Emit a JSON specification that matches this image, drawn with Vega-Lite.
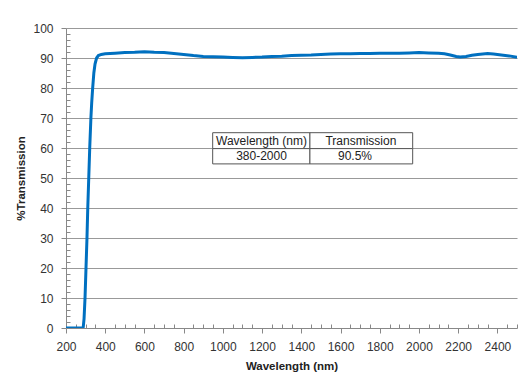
{
  "$schema": "https://vega.github.io/schema/vega-lite/v6.json",
  "width": 451,
  "height": 300,
  "autosize": {"type": "none"},
  "padding": {"left": 66, "top": 28, "right": 15, "bottom": 53},
  "background": "white",
  "config": {
    "view": {"stroke": null},
    "font": "Liberation Sans"
  },
  "datasets": {
    "curve": [
      {"wl": 200, "t": 0}, {"wl": 250, "t": 0}, {"wl": 285, "t": 0}, {"wl": 288, "t": 0.3},
      {"wl": 292, "t": 3}, {"wl": 297, "t": 10}, {"wl": 302, "t": 20}, {"wl": 307, "t": 30},
      {"wl": 311, "t": 40}, {"wl": 316, "t": 50}, {"wl": 321, "t": 60}, {"wl": 327, "t": 70},
      {"wl": 331, "t": 75}, {"wl": 336, "t": 80}, {"wl": 342, "t": 85}, {"wl": 348, "t": 88},
      {"wl": 356, "t": 90}, {"wl": 365, "t": 90.8}, {"wl": 380, "t": 91.2}, {"wl": 400, "t": 91.4},
      {"wl": 450, "t": 91.6}, {"wl": 500, "t": 91.8}, {"wl": 550, "t": 91.9}, {"wl": 600, "t": 92.1},
      {"wl": 650, "t": 91.9}, {"wl": 700, "t": 91.8}, {"wl": 750, "t": 91.5}, {"wl": 800, "t": 91.2},
      {"wl": 850, "t": 90.8}, {"wl": 900, "t": 90.5}, {"wl": 950, "t": 90.4}, {"wl": 1000, "t": 90.3},
      {"wl": 1050, "t": 90.2}, {"wl": 1100, "t": 90.1}, {"wl": 1150, "t": 90.2}, {"wl": 1200, "t": 90.3},
      {"wl": 1250, "t": 90.5}, {"wl": 1300, "t": 90.6}, {"wl": 1350, "t": 90.8}, {"wl": 1400, "t": 90.9},
      {"wl": 1450, "t": 91.0}, {"wl": 1500, "t": 91.2}, {"wl": 1550, "t": 91.3}, {"wl": 1600, "t": 91.4},
      {"wl": 1650, "t": 91.4}, {"wl": 1700, "t": 91.5}, {"wl": 1750, "t": 91.5}, {"wl": 1800, "t": 91.6},
      {"wl": 1850, "t": 91.6}, {"wl": 1900, "t": 91.6}, {"wl": 1950, "t": 91.7}, {"wl": 2000, "t": 91.8},
      {"wl": 2050, "t": 91.7}, {"wl": 2100, "t": 91.6}, {"wl": 2130, "t": 91.4}, {"wl": 2160, "t": 91.0},
      {"wl": 2190, "t": 90.5}, {"wl": 2210, "t": 90.3}, {"wl": 2240, "t": 90.5}, {"wl": 2270, "t": 90.9},
      {"wl": 2300, "t": 91.2}, {"wl": 2350, "t": 91.5}, {"wl": 2380, "t": 91.3}, {"wl": 2420, "t": 91.0},
      {"wl": 2460, "t": 90.7}, {"wl": 2500, "t": 90.2}
    ],
    "cells": [
      {"x1": 948, "x2": 1444, "y1": 65.1, "y2": 59.8},
      {"x1": 1444, "x2": 1968, "y1": 65.1, "y2": 59.8},
      {"x1": 948, "x2": 1444, "y1": 59.8, "y2": 54.7},
      {"x1": 1444, "x2": 1968, "y1": 59.8, "y2": 54.7}
    ],
    "labels": [
      {"x": 1197, "y": 62.4, "text": "Wavelength (nm)"},
      {"x": 1704, "y": 62.4, "text": "Transmission"},
      {"x": 1197, "y": 57.2, "text": "380-2000"},
      {"x": 1674, "y": 57.2, "text": "90.5%"}
    ]
  },
  "layer": [
    {
      "data": {"name": "curve"},
      "mark": {"type": "line", "color": "#0070C0", "strokeWidth": 3, "clip": true},
      "encoding": {
        "x": {
          "field": "wl", "type": "quantitative",
          "scale": {"domain": [200, 2500], "nice": false, "zero": false},
          "axis": {
            "title": "Wavelength (nm)",
            "titleFont": "Liberation Sans", "titleFontSize": 11.5, "titleFontWeight": "bold", "titleColor": "#222", "titlePadding": 8,
            "values": [200,250,300,350,400,450,500,550,600,650,700,750,800,850,900,950,1000,1050,1100,1150,1200,1250,1300,1350,1400,1450,1500,1550,1600,1650,1700,1750,1800,1850,1900,1950,2000,2050,2100,2150,2200,2250,2300,2350,2400,2450,2500],
            "tickCount": 200,
            "format": "d",
            "labelExpr": "datum.value % 200 === 0 && datum.value < 2500 ? datum.label : ''",
            "labelFontSize": 12, "labelColor": "#333", "labelPadding": 8, "labelFlush": false, "labelOverlap": false,
            "grid": false,
            "domainColor": "#888", "tickColor": "#888",
            "tickSize": {"condition": {"test": "datum.value % 200 === 0", "value": 5}, "value": -4}
          }
        },
        "y": {
          "field": "t", "type": "quantitative",
          "scale": {"domain": [0, 100], "nice": false},
          "axis": {
            "title": "%Transmission",
            "titleFont": "Liberation Sans", "titleFontSize": 11.5, "titleFontWeight": "bold", "titleColor": "#222", "titlePadding": 6,
            "values": [0,2,4,6,8,10,12,14,16,18,20,22,24,26,28,30,32,34,36,38,40,42,44,46,48,50,52,54,56,58,60,62,64,66,68,70,72,74,76,78,80,82,84,86,88,90,92,94,96,98,100],
            "tickCount": 200,
            "format": "d",
            "labelExpr": "datum.value % 10 === 0 ? datum.label : ''",
            "labelFontSize": 12, "labelColor": "#333", "labelPadding": 8, "labelOverlap": false,
            "grid": true,
            "gridColor": "#999",
            "gridOpacity": {"condition": {"test": "datum.value % 10 === 0 && datum.value > 0", "value": 1}, "value": 0},
            "domainColor": "#888", "tickColor": "#888",
            "tickSize": {"condition": {"test": "datum.value % 10 === 0", "value": 5}, "value": -4}
          }
        }
      }
    },
    {
      "data": {"name": "cells"},
      "mark": {"type": "rect", "fill": "white", "stroke": "#555", "strokeWidth": 1},
      "encoding": {
        "x": {"field": "x1", "type": "quantitative"},
        "x2": {"field": "x2"},
        "y": {"field": "y1", "type": "quantitative"},
        "y2": {"field": "y2"}
      }
    },
    {
      "data": {"name": "labels"},
      "mark": {"type": "text", "font": "Liberation Sans", "fontSize": 12, "color": "#222", "align": "center", "baseline": "middle"},
      "encoding": {
        "x": {"field": "x", "type": "quantitative"},
        "y": {"field": "y", "type": "quantitative"},
        "text": {"field": "text"}
      }
    }
  ]
}
